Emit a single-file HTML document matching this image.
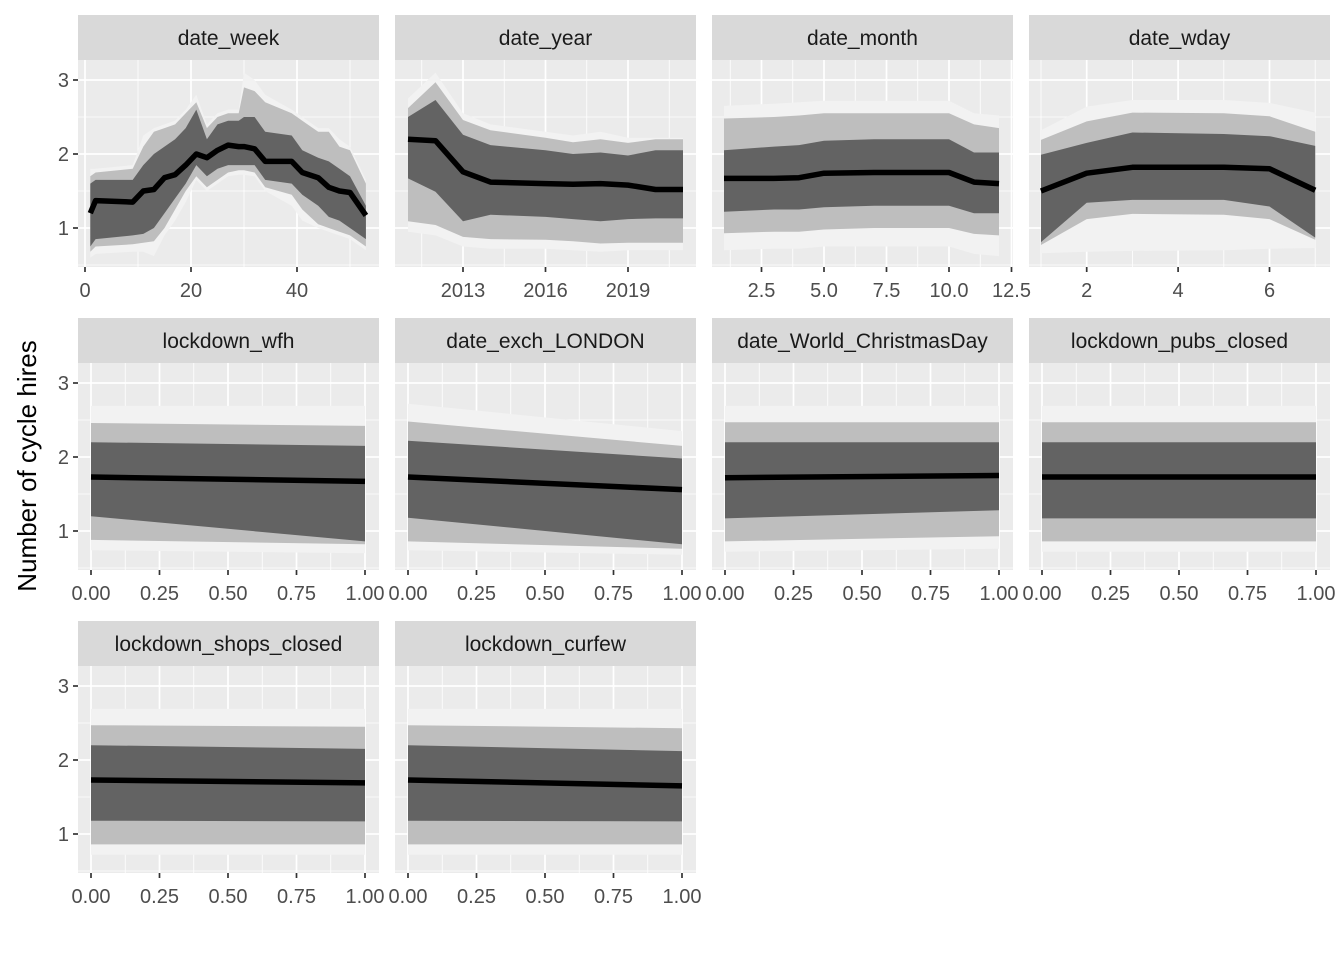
<!DOCTYPE html>
<html><head><meta charset="utf-8"><style>
html,body{margin:0;padding:0;background:#fff}
svg text{font-family:"Liberation Sans",sans-serif}
</style></head><body>
<svg id="s" width="1344" height="960" xmlns="http://www.w3.org/2000/svg">
<rect width="1344" height="960" fill="#fff"/>
<text x="36" y="466" font-size="26" fill="#000" text-anchor="middle" transform="rotate(-90 36 466)">Number of cycle hires</text>
<g id="g"></g>
</svg>
<script>
const P=[
{t:"date_week",c:0,r:0,x0:1,x1:53,px0:85,k:5.3,maj:[[0,"0"],[20,"20"],[40,"40"]],min:[10,30,50],d:[
[1,.6,.68,.75,1.2,1.6,1.7,1.8],[2,.65,.75,.85,1.37,1.65,1.75,1.8],[9,.68,.78,.9,1.35,1.65,1.8,1.85],[11,.68,.8,.92,1.5,1.85,2.1,2.25],[13,.62,.82,1.0,1.52,2.0,2.3,2.35],[15,.9,1.0,1.2,1.68,2.1,2.35,2.4],[17,1.1,1.25,1.4,1.72,2.2,2.4,2.45],[19,1.35,1.5,1.6,1.85,2.35,2.55,2.6],[21,1.65,1.7,1.85,2.0,2.6,2.7,2.8],[23,1.5,1.55,1.7,1.95,2.2,2.35,2.4],[25,1.6,1.65,1.8,2.05,2.4,2.5,2.55],[27,1.7,1.75,1.85,2.12,2.45,2.55,2.6],[29,1.72,1.78,1.85,2.1,2.45,2.55,2.6],[30,1.72,1.78,1.85,2.1,2.5,2.9,3.1],[32,1.7,1.75,1.85,2.07,2.5,2.85,3.0],[34,1.5,1.55,1.65,1.9,2.3,2.7,2.8],[39,1.3,1.45,1.6,1.9,2.25,2.55,2.6],[41,1.1,1.25,1.45,1.75,2.05,2.45,2.5],[44,1.0,1.05,1.3,1.68,1.95,2.3,2.35],[46,.95,1.0,1.15,1.55,1.9,2.3,2.35],[48,.9,.95,1.1,1.5,1.8,2.1,2.2],[50,.85,.9,1.0,1.48,1.7,2.05,2.1],[53,.7,.75,.85,1.17,1.3,1.6,1.65]]},
{t:"date_year",c:1,r:0,x0:2011,x1:2021,px0:408-2011*27.5,k:27.5,maj:[[2013,"2013"],[2016,"2016"],[2019,"2019"]],min:[2011.5,2014.5,2017.5,2020.5],d:[
[2011,.95,1.09,1.67,2.2,2.5,2.62,2.75],[2012,.9,1.04,1.49,2.18,2.73,2.97,3.1],[2013,.75,.88,1.09,1.76,2.26,2.46,2.55],[2014,.72,.85,1.18,1.62,2.12,2.32,2.4],[2016,.72,.84,1.15,1.6,2.05,2.22,2.3],[2017,.7,.82,1.12,1.59,2.0,2.16,2.25],[2018,.68,.79,1.09,1.6,2.02,2.2,2.3],[2019,.7,.8,1.12,1.58,1.98,2.15,2.22],[2020,.7,.8,1.13,1.52,2.05,2.2,2.22],[2021,.7,.8,1.13,1.52,2.05,2.2,2.22]]},
{t:"date_month",c:2,r:0,x0:1,x1:12,px0:724-25,k:25,maj:[[2.5,"2.5"],[5,"5.0"],[7.5,"7.5"],[10,"10.0"],[12.5,"12.5"]],min:[1.25,3.75,6.25,8.75,11.25],d:[
[1,.7,.93,1.22,1.67,2.05,2.48,2.65],[3,.72,.95,1.25,1.67,2.1,2.5,2.68],[4,.72,.95,1.25,1.68,2.12,2.52,2.7],[5,.75,.98,1.28,1.74,2.18,2.55,2.72],[7,.75,1.0,1.3,1.75,2.2,2.55,2.72],[10,.75,1.0,1.3,1.75,2.2,2.55,2.72],[11,.65,.92,1.2,1.62,2.02,2.4,2.55],[12,.62,.9,1.2,1.6,2.02,2.35,2.52]]},
{t:"date_wday",c:3,r:0,x0:1,x1:7,px0:1041-45.7,k:45.7,maj:[[2,"2"],[4,"4"],[6,"6"]],min:[1,3,5,7],d:[
[1,.66,.77,.81,1.5,1.99,2.19,2.32],[2,.68,1.12,1.34,1.74,2.15,2.44,2.64],[3,.69,1.19,1.38,1.82,2.29,2.56,2.73],[5,.7,1.18,1.38,1.82,2.27,2.55,2.73],[6,.72,1.12,1.29,1.8,2.24,2.51,2.69],[7,.73,.84,.87,1.51,2.11,2.3,2.56]]},
{t:"lockdown_wfh",c:0,r:1,d:[[0,.74,.88,1.2,1.73,2.2,2.46,2.69],[1,.7,.82,.86,1.67,2.15,2.42,2.69]]},
{t:"date_exch_LONDON",c:1,r:1,d:[[0,.74,.86,1.18,1.73,2.22,2.48,2.72],[1,.68,.76,.82,1.56,1.98,2.15,2.35]]},
{t:"date_World_ChristmasDay",c:2,r:1,d:[[0,.72,.86,1.17,1.72,2.2,2.47,2.69],[1,.76,.93,1.28,1.75,2.2,2.47,2.69]]},
{t:"lockdown_pubs_closed",c:3,r:1,d:[[0,.72,.86,1.17,1.73,2.2,2.47,2.69],[1,.72,.86,1.17,1.73,2.2,2.47,2.69]]},
{t:"lockdown_shops_closed",c:0,r:2,d:[[0,.72,.86,1.18,1.73,2.2,2.47,2.69],[1,.72,.86,1.17,1.69,2.15,2.45,2.69]]},
{t:"lockdown_curfew",c:1,r:2,d:[[0,.72,.86,1.18,1.73,2.2,2.47,2.69],[1,.72,.86,1.17,1.65,2.12,2.43,2.69]]}
];
const PX=[78,395,712,1029],ST=[15,318,621];
let h="";
for(const p of P){
 const L=PX[p.c],W=301,st=ST[p.r],T=st+45,B=T+207,y3=T+20;
 if(p.r>0){p.x0=0;p.x1=1;p.px0=L+13;p.k=274;p.maj=[[0,"0.00"],[.25,"0.25"],[.5,"0.50"],[.75,"0.75"],[1,"1.00"]];p.min=[.125,.375,.625,.875];}
 const X=v=>p.px0+v*p.k, Y=v=>y3+(3-v)*74;
 h+=`<rect x="${L}" y="${st}" width="${W}" height="45" fill="#d9d9d9"/>`;
 h+=`<text x="${L+W/2}" y="${st+30}" font-size="21" fill="#1a1a1a" text-anchor="middle">${p.t}</text>`;
 h+=`<rect x="${L}" y="${T}" width="${W}" height="207" fill="#ebebeb"/>`;
 for(const m of [.5,1.5,2.5]) h+=`<line x1="${L}" x2="${L+W}" y1="${Y(m)}" y2="${Y(m)}" stroke="#fff" stroke-width="0.8"/>`;
 for(const m of p.min){const x=X(m); if(x>=L&&x<=L+W) h+=`<line x1="${x}" x2="${x}" y1="${T}" y2="${B}" stroke="#fff" stroke-width="0.8"/>`;}
 for(const m of [1,2,3]) h+=`<line x1="${L}" x2="${L+W}" y1="${Y(m)}" y2="${Y(m)}" stroke="#fff" stroke-width="1.7"/>`;
 for(const [m,l] of p.maj){const x=X(m); if(x>=L-1&&x<=L+W+1) h+=`<line x1="${x}" x2="${x}" y1="${T}" y2="${B}" stroke="#fff" stroke-width="1.7"/>`;
  h+=`<line x1="${x}" x2="${x}" y1="${B}" y2="${B+5}" stroke="#333" stroke-width="1.7"/><text x="${x}" y="${B+30}" font-size="20" fill="#4d4d4d" text-anchor="middle">${l}</text>`;}
 if(p.c==0) for(const m of [1,2,3]) h+=`<line x1="${L-5}" x2="${L}" y1="${Y(m)}" y2="${Y(m)}" stroke="#333" stroke-width="1.7"/><text x="${L-9}" y="${Y(m)+7}" font-size="20" fill="#4d4d4d" text-anchor="end">${m}</text>`;
 const band=(a,b,col)=>{let up=p.d.map(r=>X(r[0]).toFixed(1)+","+Y(r[b]).toFixed(1));let dn=p.d.slice().reverse().map(r=>X(r[0]).toFixed(1)+","+Y(r[a]).toFixed(1));h+=`<polygon points="${up.concat(dn).join(" ")}" fill="${col}"/>`;};
 band(1,7,"#f2f2f2");band(2,6,"#bebebe");band(3,5,"#636363");
 h+=`<polyline points="${p.d.map(r=>X(r[0]).toFixed(1)+","+Y(r[4]).toFixed(1)).join(" ")}" fill="none" stroke="#000" stroke-width="5.5" stroke-linejoin="round"/>`;
}
document.getElementById("g").innerHTML=h;
</script>
</body></html>
